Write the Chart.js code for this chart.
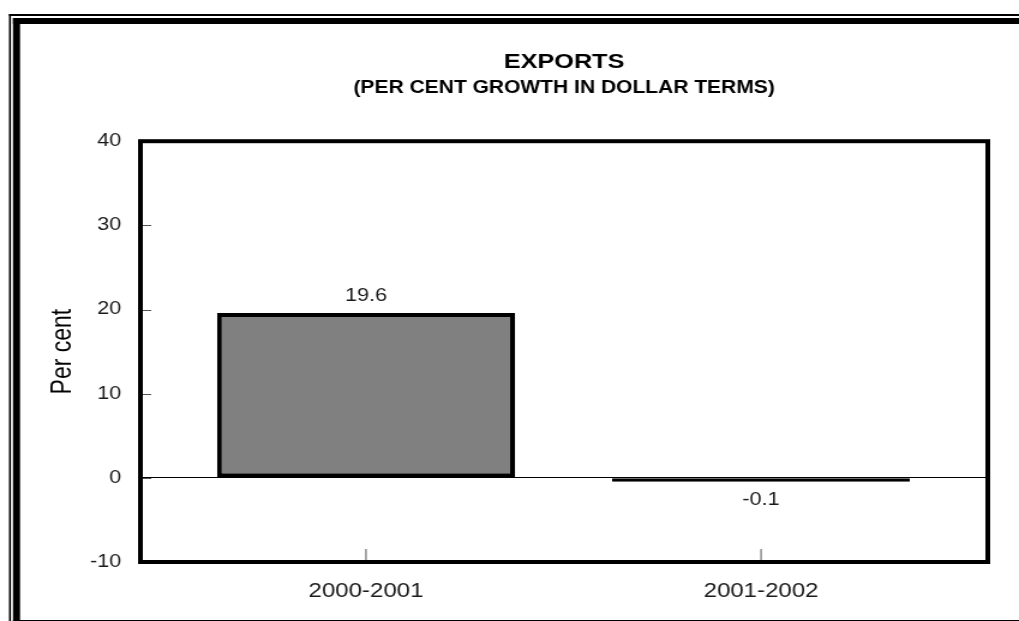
<!DOCTYPE html>
<html>
<head>
<meta charset="utf-8">
<title>Exports</title>
<script src="https://cdn.jsdelivr.net/npm/chart.js@4.4.1/dist/chart.umd.min.js"></script>
<style>
  html, body { margin: 0; padding: 0; background: #fff; }
</style>
</head>
<body>
<!-- drawn 849 wide, then widened to the page -->
<canvas id="chart" width="849" height="621" style="display:block;width:1019px;height:621px"></canvas>
<script>
const periods = ['2000-2001', '2001-2002'];
const growth = [19.6, -0.1];
const yTicks = [-10, 0, 10, 20, 30, 40];

const FONT = 'Arial, "Liberation Sans", sans-serif';
const ctx = document.getElementById('chart');

// double rule down the left and along the top, thin rule at the bottom
const sheetFrame = {
  id: 'sheetFrame',
  beforeDraw(chart) {
    const c = chart.ctx;
    const w = chart.width, h = chart.height;
    c.save();
    c.fillStyle = '#000';
    c.fillRect(7.5, 14, 1.6, h - 14);
    c.fillRect(10.8, 18, 5.9, h - 18);
    c.fillRect(7.5, 14, w, 2);
    c.fillRect(10.8, 18, w, 6);
    c.fillRect(10.8, h - 1, w, 1);
    c.restore();
  }
};

// heavy box round the plot, with short inward tick marks
const plotFrame = {
  id: 'plotFrame',
  afterDatasetsDraw(chart) {
    const {ctx: c, chartArea: a, scales: {x, y}} = chart;
    c.save();
    c.strokeStyle = '#555';
    c.lineWidth = 1;
    c.beginPath();
    yTicks.forEach(v => {
      const py = Math.round(y.getPixelForValue(v)) + 0.5;
      c.moveTo(a.left, py);
      c.lineTo(a.left + 9, py);
    });
    periods.forEach((p, i) => {
      const px = x.getPixelForValue(i);
      c.moveTo(px, a.bottom);
      c.lineTo(px, a.bottom - 13);
    });
    c.stroke();
    c.strokeStyle = '#000';
    c.lineWidth = 4;
    c.strokeRect(a.left, a.top, a.right - a.left, a.bottom - a.top);
    c.restore();
  }
};

// value printed above positive bars and below negative ones
const valueLabels = {
  id: 'valueLabels',
  afterDatasetsDraw(chart) {
    const c = chart.ctx;
    const meta = chart.getDatasetMeta(0);
    c.save();
    c.font = '18px ' + FONT;
    c.fillStyle = '#1a1a1a';
    c.textAlign = 'center';
    c.textBaseline = 'middle';
    meta.data.forEach((bar, i) => {
      const v = growth[i];
      const py = v >= 0 ? bar.y - 17 : bar.y + 18;
      c.fillText(v.toFixed(1), bar.x, py);
    });
    c.restore();
  }
};

new Chart(ctx, {
  type: 'bar',
  data: {
    datasets: [{
      label: 'Exports',
      data: periods.map((p, i) => ({x: i, y: growth[i]})),
      backgroundColor: '#808080',
      borderColor: '#000',
      borderWidth: 4,
      borderSkipped: false,
      minBarLength: 4,
      categoryPercentage: 1,
      barPercentage: 0.754
    }]
  },
  options: {
    responsive: false,
    animation: false,
    devicePixelRatio: 1,
    layout: {padding: {top: 50, left: 20, right: 26, bottom: 1}},
    plugins: {
      legend: {display: false},
      tooltip: {enabled: false},
      title: {
        display: true,
        fullSize: false,
        text: 'EXPORTS',
        color: '#000',
        font: {family: FONT, size: 21, weight: 'bold'},
        padding: {top: 0, bottom: 0}
      },
      subtitle: {
        display: true,
        fullSize: false,
        text: '(PER CENT GROWTH IN DOLLAR TERMS)',
        color: '#000',
        font: {family: FONT, size: 17.5, weight: 'bold'},
        padding: {top: 2, bottom: 43}
      }
    },
    scales: {
      x: {
        type: 'linear',
        offset: false,
        min: -0.571,
        max: 1.574,
        grid: {display: false, drawTicks: false},
        border: {display: false},
        afterBuildTicks: s => { s.ticks = periods.map((p, i) => ({value: i})); },
        ticks: {
          callback: v => periods[v],
          padding: 17,
          maxRotation: 0,
          color: '#1a1a1a',
          font: {family: FONT, size: 20}
        }
      },
      y: {
        min: -10,
        max: 40,
        afterBuildTicks: s => { s.ticks = yTicks.map(v => ({value: v})); },
        afterFit: s => { s.width = 97; },
        grid: {
          drawTicks: false,
          lineWidth: 1,
          color: c => (c.tick && c.tick.value === 0 ? '#000' : 'rgba(0,0,0,0)')
        },
        border: {display: false},
        ticks: {
          padding: 16,
          color: '#1a1a1a',
          font: {family: FONT, size: 18}
        },
        title: {
          display: true,
          text: 'Per cent',
          color: '#000',
          font: {family: FONT, size: 23},
          padding: {top: 19, bottom: 0}
        }
      }
    }
  },
  plugins: [sheetFrame, plotFrame, valueLabels]
});
</script>
</body>
</html>
